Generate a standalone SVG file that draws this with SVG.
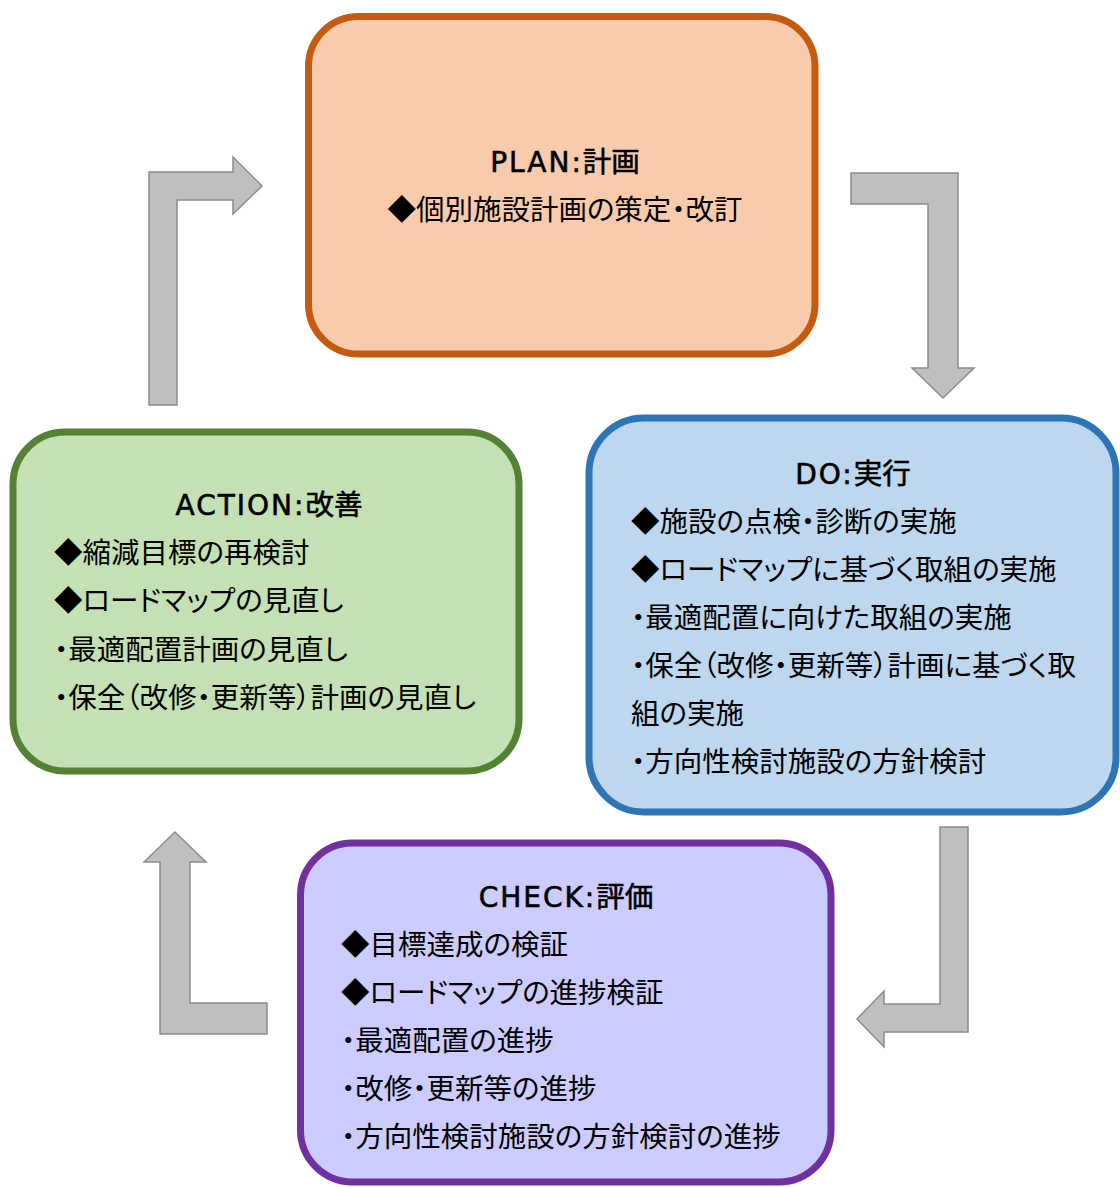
<svg xmlns="http://www.w3.org/2000/svg" width="1120" height="1187" viewBox="0 0 1120 1187">
<style>
.box{stroke-width:7}
.t{font-family:"Noto Sans CJK JP","Noto Sans",sans-serif;font-size:28.5px;fill:#000;font-feature-settings:"palt"}
.h{text-anchor:middle;stroke:#000;stroke-width:0.6}
.lat{font-family:"DejaVu Sans","Noto Sans CJK JP",sans-serif;font-size:28px;letter-spacing:2px}
.arr{fill:#bfbfbf;stroke:#8c8c8c;stroke-width:1.5;stroke-linejoin:miter}
</style>
<rect width="1120" height="1187" fill="#fff"/>
<g id="connectors">
<polygon class="arr" points="149,405 149,172 233,172 233,157 262,186 233,214 233,200 177,200 177,405"/>
<polygon class="arr" points="851,173 958,173 958,368 974,368 943,398 912,368 928,368 928,204 851,204"/>
<polygon class="arr" points="940,827 968,827 968,1032 884,1032 884,1047 857,1019 884,991 884,1004 940,1004"/>
<polygon class="arr" points="175,832 206,862 190,862 190,1003 267,1003 267,1034 160,1034 160,862 144,862"/>
</g>
<g id="plan">
<rect class="box" x="308.5" y="16.5" width="506.5" height="337.5" rx="50" fill="#f8cbad" stroke="#c55a11"/>
<text class="t h" x="565" y="172"><tspan class="lat">PLAN:</tspan>計画</text>
<text class="t" x="565" y="220" text-anchor="middle">◆個別施設計画の策定・改訂</text>
</g>
<g id="do">
<rect class="box" x="589" y="418" width="527" height="394" rx="55" fill="#bdd7ee" stroke="#2e75b6"/>
<text class="t h" x="853" y="484"><tspan class="lat">DO:</tspan>実行</text>
<text class="t" x="631" y="532">◆施設の点検・診断の実施</text>
<text class="t" x="631" y="580">◆ロードマップに基づく取組の実施</text>
<text class="t" x="631" y="628">・最適配置に向けた取組の実施</text>
<text class="t" x="631" y="676">・保全（改修・更新等）計画に基づく取</text>
<text class="t" x="631" y="724">組の実施</text>
<text class="t" x="631" y="772">・方向性検討施設の方針検討</text>
</g>
<g id="check">
<rect class="box" x="300.5" y="843" width="530.5" height="339" rx="52" fill="#ccccff" stroke="#7030a0"/>
<text class="t h" x="566" y="907"><tspan class="lat">CHECK:</tspan>評価</text>
<text class="t" x="341" y="955">◆目標達成の検証</text>
<text class="t" x="341" y="1003">◆ロードマップの進捗検証</text>
<text class="t" x="341" y="1051">・最適配置の進捗</text>
<text class="t" x="341" y="1099">・改修・更新等の進捗</text>
<text class="t" x="341" y="1147">・方向性検討施設の方針検討の進捗</text>
</g>
<g id="action">
<rect class="box" x="13" y="432" width="506" height="339" rx="52" fill="#c5e0b4" stroke="#548235"/>
<text class="t h" x="269" y="515"><tspan class="lat">ACTION:</tspan>改善</text>
<text class="t" x="54" y="563">◆縮減目標の再検討</text>
<text class="t" x="54" y="611">◆ロードマップの見直し</text>
<text class="t" x="54" y="660">・最適配置計画の見直し</text>
<text class="t" x="54" y="708">・保全（改修・更新等）計画の見直し</text>
</g>
</svg>
